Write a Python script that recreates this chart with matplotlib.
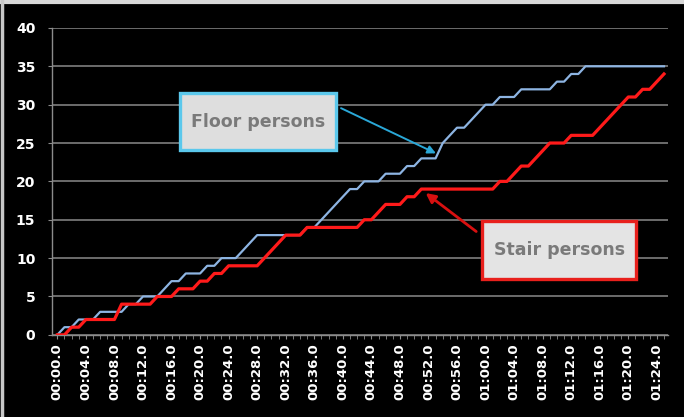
#!/usr/bin/env python3
import matplotlib
matplotlib.use('Agg')
import matplotlib.pyplot as plt
from matplotlib.patches import Rectangle
from matplotlib.lines import Line2D

# one value per second, 00:00 .. 01:25
seconds = list(range(86))
floor_persons = [0, 1, 1, 2, 2, 2, 3, 3, 3, 3,
                 4, 4, 5, 5, 5, 6, 7, 7, 8, 8,
                 8, 9, 9, 10, 10, 10, 11, 12, 13, 13,
                 13, 13, 13, 13, 13, 14, 14, 15, 16, 17,
                 18, 19, 19, 20, 20, 20, 21, 21, 21, 22,
                 22, 23, 23, 23, 25, 26, 27, 27, 28, 29,
                 30, 30, 31, 31, 31, 32, 32, 32, 32, 32,
                 33, 33, 34, 34, 35, 35, 35, 35, 35, 35,
                 35, 35, 35, 35, 35, 35]
stair_persons = [0, 0, 1, 1, 2, 2, 2, 2, 2, 4,
                 4, 4, 4, 4, 5, 5, 5, 6, 6, 6,
                 7, 7, 8, 8, 9, 9, 9, 9, 9, 10,
                 11, 12, 13, 13, 13, 14, 14, 14, 14, 14,
                 14, 14, 14, 15, 15, 16, 17, 17, 17, 18,
                 18, 19, 19, 19, 19, 19, 19, 19, 19, 19,
                 19, 19, 20, 20, 21, 22, 22, 23, 24, 25,
                 25, 25, 26, 26, 26, 26, 27, 28, 29, 30,
                 31, 31, 32, 32, 33, 34]
y_ticks = [0, 5, 10, 15, 20, 25, 30, 35, 40]


def fmt_time(s):
    return '{:02d}:{:02d}.0'.format(s // 60, s % 60)


fig = plt.figure(figsize=(6.84, 4.17), dpi=100, facecolor='black')
ax = fig.add_axes([0.076, 0.197, 0.901, 0.736])
ax.set_facecolor('black')

ax.plot(seconds, floor_persons, color='#8db4e2', lw=1.6, zorder=3)
ax.plot(seconds, stair_persons, color='#ff1a1a', lw=2.3, zorder=3)

ax.set_xlim(-0.75, 85.6)
ax.set_ylim(0, 40)
ax.set_yticks(y_ticks)
ax.set_xticks(seconds[::4])
ax.set_xticklabels([fmt_time(s) for s in seconds[::4]], rotation=90)
ax.set_xticks(seconds, minor=True)

ax.grid(axis='y', color='#7f7f7f', lw=1.2)
ax.set_axisbelow(True)
for side in ['top', 'right']:
    ax.spines[side].set_visible(False)
for side in ['left', 'bottom']:
    ax.spines[side].set_color('#8c8c8c')
    ax.spines[side].set_linewidth(1.0)

ax.tick_params(axis='y', colors='#8c8c8c', labelcolor='white', length=3,
               pad=9, labelsize=10)
ax.tick_params(axis='x', which='both', colors='#8c8c8c', labelcolor='white',
               length=3, pad=3, labelsize=9.5)
for lab in ax.get_xticklabels() + ax.get_yticklabels():
    lab.set_fontweight('bold')

# callout boxes
ax.add_patch(Rectangle((17.2, 24.1), 21.9, 7.4, facecolor='#dedede',
                       edgecolor='#5bc8ec', lw=2.4, zorder=5))
ax.text(28.15, 27.8, 'Floor persons', color='#7a7a7a', fontsize=12.5,
        fontweight='bold', ha='center', va='center', zorder=6)
ax.annotate('', xy=(53.4, 23.5), xytext=(39.4, 29.7),
            arrowprops=dict(arrowstyle='-|>', color='#2aa8d8', lw=1.4,
                            mutation_scale=12), zorder=6)

ax.add_patch(Rectangle((59.5, 7.3), 21.6, 7.5, facecolor='#e4e4e4',
                       edgecolor='#e8201c', lw=2.4, zorder=5))
ax.text(70.3, 11.0, 'Stair persons', color='#7a7a7a', fontsize=12.5,
        fontweight='bold', ha='center', va='center', zorder=6)
ax.annotate('', xy=(51.3, 18.7), xytext=(59.0, 13.25),
            arrowprops=dict(arrowstyle='-|>', color='#d81010', lw=2.0,
                            mutation_scale=14), zorder=6)

# light frame at top and left edge of the screenshot
fig.add_artist(Line2D([0, 1], [0.995, 0.995], transform=fig.transFigure,
                      color='#d8d8d8', lw=3))
fig.add_artist(Line2D([0.003, 0.003], [0, 1], transform=fig.transFigure,
                      color='#c8c8c8', lw=2.5))

fig.savefig('out.png', dpi=100, facecolor='black')
